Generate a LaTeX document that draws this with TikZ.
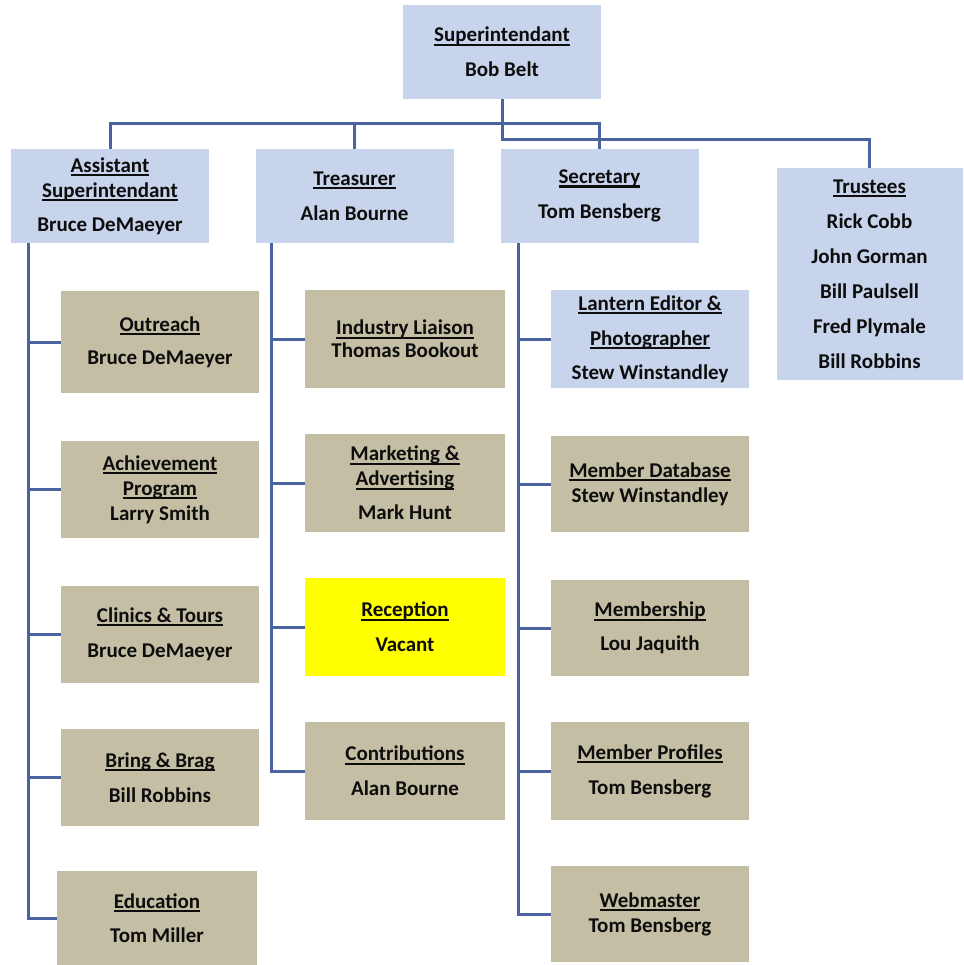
\documentclass[tikz,border=0pt]{standalone}
\usepackage{fontspec}
\setmainfont{Carlito}
\usetikzlibrary{calc}

\definecolor{boxblue}{RGB}{200,212,235}
\definecolor{boxtan}{RGB}{196,191,164}
\definecolor{boxyellow}{RGB}{255,255,0}
\definecolor{linkblue}{RGB}{74,100,162}

\newsavebox{\ttlbox}
\newcommand{\ttl}[1]{\sbox{\ttlbox}{#1}\rlap{\rule[-4pt]{\wd\ttlbox}{2.2pt}}\usebox{\ttlbox}}

\tikzset{
  unit/.style={inner sep=0pt, outer sep=0pt, align=center,
    font=\fontsize{21}{25}\selectfont\bfseries, text=black!95,
    minimum width=198pt, minimum height=97pt},
  head/.style={unit, fill=boxblue},
  office/.style={unit, fill=boxtan},
  vacantbox/.style={unit, fill=boxyellow},
  link/.style={draw=linkblue, line width=3pt}
}

\begin{document}
\begin{tikzpicture}[x=1pt,y=-1pt]

          \fill[white] (0,0) rectangle (963,965);
          \useasboundingbox (0,0) rectangle (963,965);

          % top row
          \node[head, minimum height=94pt] (sup) at (502,52) {\ttl{Superintendant}\\[10pt]Bob Belt};
          \node[head, minimum height=94pt] (asst) at (110,196) {\ttl{Assistant}\\\ttl{Superintendant}\\[9pt]Bruce DeMaeyer};
          \node[head, minimum height=94pt] (treas) at (354.5,196) {\ttl{Treasurer}\\[10pt]Alan Bourne};
          \node[head, minimum height=94pt] (sec) at (599.5,196) {\ttl{Secretary}\\[10pt]Tom Bensberg};
          \node[head, minimum width=186pt, minimum height=212pt] (trust) at (869.5,274)
               {\ttl{Trustees}\\[10pt]Rick Cobb\\[10pt]John Gorman\\[10pt]Bill Paulsell\\[10pt]Fred Plymale\\[10pt]Bill Robbins};

          % assistant superintendant column
          \node[office, minimum height=102pt] (out) at (160,342) {\ttl{Outreach}\\[8pt]Bruce DeMaeyer};
          \node[office] (ach) at (160,489.5) {\ttl{Achievement}\\\ttl{Program}\\Larry Smith};
          \node[office] (clin) at (160,634) {\ttl{Clinics \& Tours}\\[10pt]Bruce DeMaeyer};
          \node[office] (brag) at (160,777.5) {\ttl{Bring \& Brag}\\[10pt]Bill Robbins};
          \node[office, minimum width=200pt, minimum height=94pt] (edu) at (157,918) {\ttl{Education}\\[9pt]Tom Miller};

          % treasurer column
          \node[office, minimum width=200pt, minimum height=98pt] (ind) at (405,339) {\ttl{Industry Liaison}\\[-2pt]Thomas Bookout};
          \node[office, minimum width=200pt, minimum height=98pt] (mkt) at (405,483) {\ttl{Marketing \&}\\\ttl{Advertising}\\[9pt]Mark Hunt};
          \node[vacantbox, minimum width=200pt, minimum height=98pt] (rec) at (405,627) {\ttl{Reception}\\[10pt]Vacant};
          \node[office, minimum width=200pt, minimum height=98pt] (contr) at (405,771) {\ttl{Contributions}\\[10pt]Alan Bourne};

          % secretary column
          \node[head, minimum height=98pt] (lant) at (650,339) {\ttl{Lantern Editor \&}\\[10pt]\ttl{Photographer}\\[9pt]Stew Winstandley};
          \node[office, minimum height=96pt] (mdb) at (650,484) {\ttl{Member Database}\\Stew Winstandley};
          \node[office, minimum height=96pt] (mship) at (650,628) {\ttl{Membership}\\[9pt]Lou Jaquith};
          \node[office, minimum height=98pt] (mprof) at (650,771) {\ttl{Member Profiles}\\[10pt]Tom Bensberg};
          \node[office, minimum height=96pt] (web) at (650,914) {\ttl{Webmaster}\\Tom Bensberg};

          % buses
          \coordinate (bus) at (502,124);
          \coordinate (trbus) at (502,140);
          \draw[link] (asst.north) |- (bus) -| (sec.north);
          \draw[link] (treas.north) -- (treas.north |- bus);
          \draw[link] (sup.south) -- (trbus) -| (trust.north);

          % spines
          \coordinate (aspine) at ([xshift=17pt]asst.south west);
          \coordinate (tspine) at ([xshift=16pt]treas.south west);
          \coordinate (sspine) at ([xshift=18pt]sec.south west);

          \draw[link] (aspine) |- (edu.west);
          \foreach \b in {out,ach,clin,brag}
            \draw[link] (aspine |- \b.west) -- (\b.west);

          \draw[link] (tspine) |- (contr.west);
          \foreach \b in {ind,mkt,rec}
            \draw[link] (tspine |- \b.west) -- (\b.west);

          \draw[link] (sspine) |- (web.west);
          \foreach \b in {lant,mdb,mship,mprof}
            \draw[link] (sspine |- \b.west) -- (\b.west);

        \end{tikzpicture}
\end{document}
